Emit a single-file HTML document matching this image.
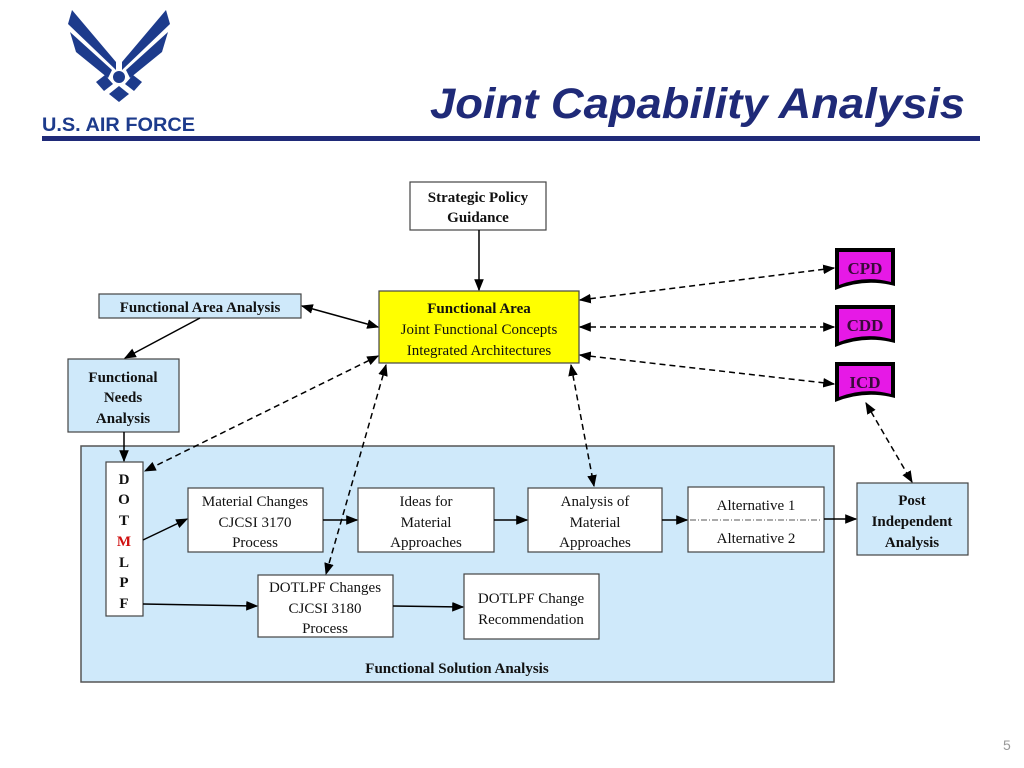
<!DOCTYPE html>
<html><head><meta charset="utf-8"><style>
body{margin:0;background:#fff;width:1024px;height:768px;overflow:hidden}
svg{display:block}
text{font-family:"Liberation Serif",serif;font-size:15px;fill:#111}
.b{font-weight:bold}
</style></head><body>
<svg width="1024" height="768" viewBox="0 0 1024 768">
<defs>
<marker id="a" viewBox="0 0 10 10" refX="9" refY="5" markerWidth="8" markerHeight="8" orient="auto-start-reverse"><path d="M0,1 L10,5 L0,9z" fill="#000"/></marker>
</defs>
<!-- logo -->
<g fill="#1d3b8c">
<polygon points="72,10 116,62 116,70 68,24"/>
<polygon points="70,32 112,70 108,78 76,52"/>
<polygon points="166,10 122,62 122,70 170,24"/>
<polygon points="168,32 126,70 130,78 162,52"/>
<circle cx="119" cy="77" r="6"/>
<polygon points="96,82 105,75 113,84 104,91"/>
<polygon points="142,82 133,75 125,84 134,91"/>
<polygon points="119,86 129,94 119,102 109,94"/>
</g>
<text x="42" y="131" textLength="153" lengthAdjust="spacingAndGlyphs" style="font-family:'Liberation Sans',sans-serif;font-weight:bold;font-size:19px;fill:#1d3b8c">U.S. AIR FORCE</text>
<text x="430" y="118" textLength="535" lengthAdjust="spacingAndGlyphs" style="font-family:'Liberation Sans',sans-serif;font-weight:bold;font-style:italic;font-size:43px;fill:#1f2a78">Joint Capability Analysis</text>
<rect x="42" y="136" width="938" height="5" fill="#1f2a78"/>
<!-- panel -->
<rect x="81" y="446" width="753" height="236" fill="#cfe9fa" stroke="#555" stroke-width="1.5"/>
<!-- boxes -->
<g stroke="#444" stroke-width="1.2">
<rect x="410" y="182" width="136" height="48" fill="#fff"/>
<rect x="379" y="291" width="200" height="72" fill="#ffff00"/>
<rect x="99" y="294" width="202" height="24" fill="#cfe9fa"/>
<rect x="68" y="359" width="111" height="73" fill="#cfe9fa"/>
<rect x="106" y="462" width="37" height="154" fill="#fff"/>
<rect x="188" y="488" width="135" height="64" fill="#fff"/>
<rect x="358" y="488" width="136" height="64" fill="#fff"/>
<rect x="528" y="488" width="134" height="64" fill="#fff"/>
<rect x="688" y="487" width="136" height="65" fill="#fff"/>
<rect x="857" y="483" width="111" height="72" fill="#cfe9fa"/>
<rect x="258" y="575" width="135" height="62" fill="#fff"/>
<rect x="464" y="574" width="135" height="65" fill="#fff"/>
</g>
<line x1="690" y1="520" x2="822" y2="520" stroke="#555" stroke-dasharray="6,2,1,2"/>
<!-- doc shapes -->
<g>
<path d="M835,248 H895 V286 Q865,278 835,290 Z" fill="#000"/>
<path d="M839,252 H891 V282 Q865,275 839,285 Z" fill="#e619e6"/>
<path d="M835,305 H895 V343 Q865,335 835,347 Z" fill="#000"/>
<path d="M839,309 H891 V339 Q865,332 839,342 Z" fill="#e619e6"/>
<path d="M835,362 H895 V398 Q865,390 835,402 Z" fill="#000"/>
<path d="M839,366 H891 V394 Q865,387 839,397 Z" fill="#e619e6"/>
</g>
<text x="865" y="274" text-anchor="middle" class="b" style="font-size:17px;fill:#3a0a3a">CPD</text>
<text x="865" y="331" text-anchor="middle" class="b" style="font-size:17px;fill:#3a0a3a">CDD</text>
<text x="865" y="388" text-anchor="middle" class="b" style="font-size:17px;fill:#3a0a3a">ICD</text>
<!-- text -->
<g text-anchor="middle">
<text class="b" x="478" y="202">Strategic Policy</text>
<text class="b" x="478" y="222">Guidance</text>
<text class="b" x="479" y="313">Functional Area</text>
<text x="479" y="334">Joint Functional Concepts</text>
<text x="479" y="355">Integrated Architectures</text>
<text class="b" x="200" y="312">Functional Area Analysis</text>
<text class="b" x="123" y="382">Functional</text>
<text class="b" x="123" y="402">Needs</text>
<text class="b" x="123" y="423">Analysis</text>
<text class="b" x="124" y="484">D</text>
<text class="b" x="124" y="504">O</text>
<text class="b" x="124" y="525">T</text>
<text class="b" x="124" y="546" style="fill:#d01010">M</text>
<text class="b" x="124" y="567">L</text>
<text class="b" x="124" y="587">P</text>
<text class="b" x="124" y="608">F</text>
<text x="255" y="506">Material Changes</text>
<text x="255" y="527">CJCSI 3170</text>
<text x="255" y="547">Process</text>
<text x="426" y="506">Ideas for</text>
<text x="426" y="527">Material</text>
<text x="426" y="547">Approaches</text>
<text x="595" y="506">Analysis of</text>
<text x="595" y="527">Material</text>
<text x="595" y="547">Approaches</text>
<text x="756" y="510">Alternative 1</text>
<text x="756" y="543">Alternative 2</text>
<text class="b" x="912" y="505">Post</text>
<text class="b" x="912" y="526">Independent</text>
<text class="b" x="912" y="547">Analysis</text>
<text x="325" y="592">DOTLPF Changes</text>
<text x="325" y="613">CJCSI 3180</text>
<text x="325" y="633">Process</text>
<text x="531" y="603">DOTLPF Change</text>
<text x="531" y="624">Recommendation</text>
<text class="b" x="457" y="673">Functional Solution Analysis</text>
</g>
<text x="1003" y="750" style="font-family:'Liberation Sans',sans-serif;font-size:14px;fill:#999">5</text>
<!-- arrows -->
<g stroke="#000" stroke-width="1.5" fill="none">
<line x1="479" y1="230" x2="479" y2="290" marker-end="url(#a)"/>
<line x1="302" y1="306" x2="378" y2="327" marker-start="url(#a)" marker-end="url(#a)"/>
<line x1="200" y1="318" x2="125" y2="358" marker-end="url(#a)"/>
<line x1="124" y1="432" x2="124" y2="461" marker-end="url(#a)"/>
<line x1="143" y1="540" x2="187" y2="519" marker-end="url(#a)"/>
<line x1="143" y1="604" x2="257" y2="606" marker-end="url(#a)"/>
<line x1="323" y1="520" x2="357" y2="520" marker-end="url(#a)"/>
<line x1="494" y1="520" x2="527" y2="520" marker-end="url(#a)"/>
<line x1="662" y1="520" x2="687" y2="520" marker-end="url(#a)"/>
<line x1="824" y1="519" x2="856" y2="519" marker-end="url(#a)"/>
<line x1="393" y1="606" x2="463" y2="607" marker-end="url(#a)"/>
</g>
<g stroke="#000" stroke-width="1.5" fill="none" stroke-dasharray="6,4">
<line x1="378" y1="356" x2="145" y2="471" marker-start="url(#a)" marker-end="url(#a)"/>
<line x1="386" y1="365" x2="326" y2="574" marker-start="url(#a)" marker-end="url(#a)"/>
<line x1="571" y1="365" x2="594" y2="486" marker-start="url(#a)" marker-end="url(#a)"/>
<line x1="580" y1="300" x2="834" y2="268" marker-start="url(#a)" marker-end="url(#a)"/>
<line x1="580" y1="327" x2="834" y2="327" marker-start="url(#a)" marker-end="url(#a)"/>
<line x1="580" y1="355" x2="834" y2="384" marker-start="url(#a)" marker-end="url(#a)"/>
<line x1="866" y1="403" x2="912" y2="482" marker-start="url(#a)" marker-end="url(#a)"/>
</g>
</svg>
</body></html>
